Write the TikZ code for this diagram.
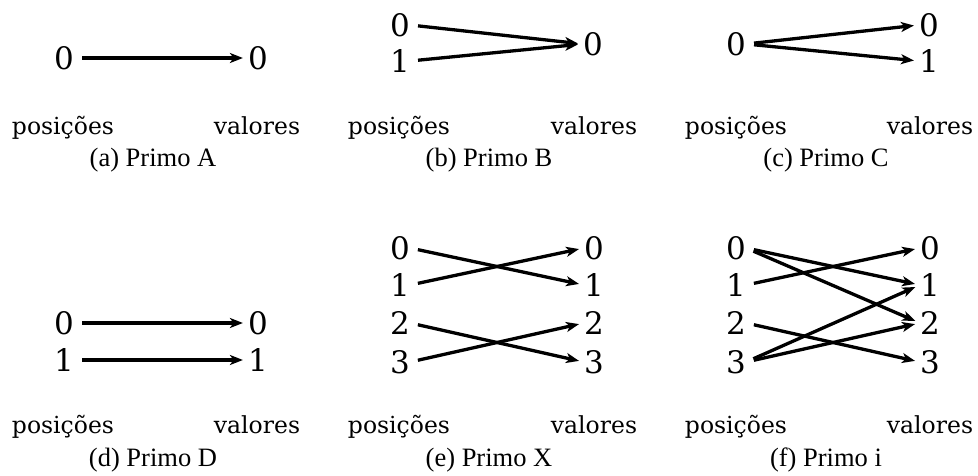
\documentclass[tikz,border=0pt]{standalone}
\usepackage{fontspec}
\setmainfont{DejaVu Serif}
\newfontfamily\capfont{Liberation Serif}
\usetikzlibrary{arrows.meta}
\tikzset{
  num/.style={inner sep=0pt, font=\fontsize{31}{31}\selectfont},
  side/.style={inner sep=0pt, anchor=base, font=\fontsize{23.5}{23.5}\selectfont},
  capt/.style={inner sep=0pt, anchor=base, font=\capfont\fontsize{26.5}{26.5}\selectfont},
  map/.style={line width=3.3pt, -{Stealth[length=13pt,width=10pt,inset=3.5pt]}, shorten <=8pt, shorten >=5pt},
}
\begin{document}
\begin{tikzpicture}[x=1pt,y=-1pt]
\useasboundingbox (0,0) rectangle (978,476);

% (a) Primo A
\node[num] (a0) at (64,58) {0};
\node[num] (av0) at (258,58) {0};
\draw[map] (a0.east) -- (av0.west);
\node[side] (ap) at (63,135) {posições};
\node[side] (av) at (257,135) {valores};
\node[capt] (ac) at (153,167) {(a) Primo A};

% (b) Primo B
\node[num] (b0) at (400,25) {0};
\node[num] (b1) at (400,61) {1};
\node[num] (bv0) at (593,44) {0};
\draw[map] (b0.east) -- (bv0.west);
\draw[map] (b1.east) -- (bv0.west);
\node[side] (bp) at (399,135) {posições};
\node[side] (bv) at (594,135) {valores};
\node[capt] (bc) at (489,167) {(b) Primo B};

% (c) Primo C
\node[num] (c0) at (736,44) {0};
\node[num] (cv0) at (929,25) {0};
\node[num] (cv1) at (929,61) {1};
\draw[map] (c0.east) -- (cv0.west);
\draw[map] (c0.east) -- (cv1.west);
\node[side] (cp) at (736,135) {posições};
\node[side] (cv) at (930,135) {valores};
\node[capt] (cc) at (826,167) {(c) Primo C};

% (d) Primo D
\node[num] (d0) at (64,323) {0};
\node[num] (d1) at (64,360) {1};
\node[num] (dv0) at (258,323) {0};
\node[num] (dv1) at (258,360) {1};
\draw[map] (d0.east) -- (dv0.west);
\draw[map] (d1.east) -- (dv1.west);
\node[side] (dp) at (63,433) {posições};
\node[side] (dv) at (257,433) {valores};
\node[capt] (dc) at (153,466) {(d) Primo D};

% (e) Primo X
\foreach \i/\y in {0/248,1/285,2/323,3/362}{
  \node[num] (e\i) at (400,\y) {\i};
  \node[num] (ev\i) at (594,\y) {\i};
}
\draw[map] (e0.east) -- (ev1.west);
\draw[map] (e1.east) -- (ev0.west);
\draw[map] (e2.east) -- (ev3.west);
\draw[map] (e3.east) -- (ev2.west);
\node[side] (ep) at (399,433) {posições};
\node[side] (ev) at (594,433) {valores};
\node[capt] (ec) at (489,466) {(e) Primo X};

% (f) Primo i
\foreach \i/\y in {0/248,1/285,2/323,3/362}{
  \node[num] (f\i) at (736,\y) {\i};
  \node[num] (fv\i) at (930,\y) {\i};
}
\draw[map] (f0.east) -- (fv1.west);
\draw[map] (f0.east) -- (fv2.west);
\draw[map] (f1.east) -- (fv0.west);
\draw[map] (f2.east) -- (fv3.west);
\draw[map] (f3.east) -- (fv1.west);
\draw[map] (f3.east) -- (fv2.west);
\node[side] (fp) at (736,433) {posições};
\node[side] (fv) at (930,433) {valores};
\node[capt] (fc) at (826,466) {(f) Primo i};
\end{tikzpicture}
\end{document}
